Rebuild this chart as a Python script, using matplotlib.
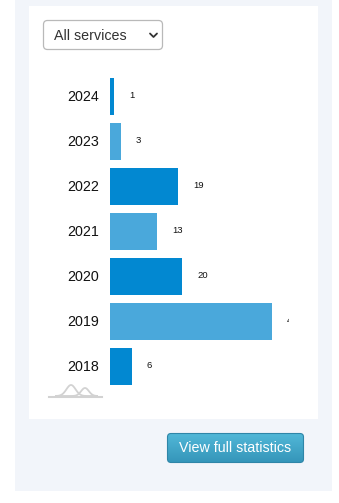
import numpy as np
import matplotlib
matplotlib.use("Agg")
import matplotlib.pyplot as plt
import matplotlib.transforms as mtransforms
from matplotlib.patches import Rectangle, FancyBboxPatch

plt.rcParams["font.family"] = ["Liberation Sans", "DejaVu Sans"]

YEARS = ["2024", "2023", "2022", "2021", "2020", "2019", "2018"]
COUNTS = [1, 3, 19, 13, 20, 45, 6]
DARK, LIGHT = "#0288d1", "#4aa8db"
COLORS = [DARK, LIGHT, DARK, LIGHT, DARK, LIGHT, DARK]

W, H = 339, 503
fig = plt.figure(figsize=(W / 100, H / 100), dpi=100)

# page layer in pixel coordinates (origin top-left)
bg = fig.add_axes([0, 0, 1, 1])
bg.set_xlim(0, W)
bg.set_ylim(H, 0)
bg.axis("off")

bg.add_patch(Rectangle((15, 0), 317, 491, color="#f2f5fa", lw=0))
bg.add_patch(Rectangle((29, 6), 289, 413, color="white", lw=0))

# service selector
bg.add_patch(FancyBboxPatch((43.5, 20.5), 119, 29, boxstyle="round,pad=0,rounding_size=4",
                            fc="white", ec="#b9b9b9", lw=0.9))
bg.text(54, 35.5, "All services", fontsize=10.3, color="#333333", va="center", ha="left")
bg.plot([150, 153.5, 157], [33.5, 37, 33.5], color="#333333", lw=1.3,
        solid_capstyle="round", solid_joinstyle="round")

# small logo under the chart: two overlapping humps on a baseline
lx = np.linspace(56, 97, 120)
bg.plot(lx, 396 - 11 * np.exp(-((lx - 71) / 6.5) ** 2), color="#d2d2d2", lw=1.3)
bg.plot(lx, 396 - 8 * np.exp(-((lx - 85) / 5.5) ** 2), color="#d2d2d2", lw=1.3)
bg.plot([49, 102], [396.5, 396.5], color="#d2d2d2", lw=1.5)

# "View full statistics" button with a vertical gradient
grad = np.linspace(0, 1, 64).reshape(-1, 1)
top_c = np.array(matplotlib.colors.to_rgb("#52b8d8"))
bot_c = np.array(matplotlib.colors.to_rgb("#3596ba"))
img = top_c + (bot_c - top_c) * grad[..., None]
btn = FancyBboxPatch((167.5, 433.5), 136, 29, boxstyle="round,pad=0,rounding_size=3.5",
                     fc="none", ec="#2f86a8", lw=0.8, zorder=3)
bg.add_patch(btn)
im = bg.imshow(img, extent=(167.5, 303.5, 462.5, 433.5), aspect="auto", zorder=2)
im.set_clip_path(btn)
bg.text(235.5, 448.5, "View full statistics", fontsize=10.3, color="white",
        ha="center", va="center", zorder=4)

# bar chart of yearly counts
ax = fig.add_axes([110 / W, 1 - 389 / H, 179 / W, 315 / H])
ax.patch.set_alpha(0)
y = np.arange(len(YEARS))
ax.barh(y, COUNTS, height=37 / 45, color=COLORS)
ax.set_xlim(0, 179 / 3.6)
ax.set_ylim(len(YEARS) - 0.5, -0.5)
ax.set_yticks(y)
ax.set_yticklabels(YEARS, fontsize=10.3, color="#111111")
ax.tick_params(axis="y", length=0, pad=8)
nudge = mtransforms.ScaledTranslation(0, 1.2 / 100, fig.dpi_scale_trans)
for lbl in ax.get_yticklabels():
    lbl.set_transform(lbl.get_transform() + nudge)
ax.set_xticks([])
for s in ax.spines.values():
    s.set_visible(False)
for yi, v in zip(y, COUNTS):
    ax.annotate(str(v), (v, yi), xytext=(11, 0.6), textcoords="offset points",
                fontsize=6.8, color="#111111", va="center", ha="left",
                annotation_clip=False, clip_on=True)

fig.savefig("out.png", dpi=100)
